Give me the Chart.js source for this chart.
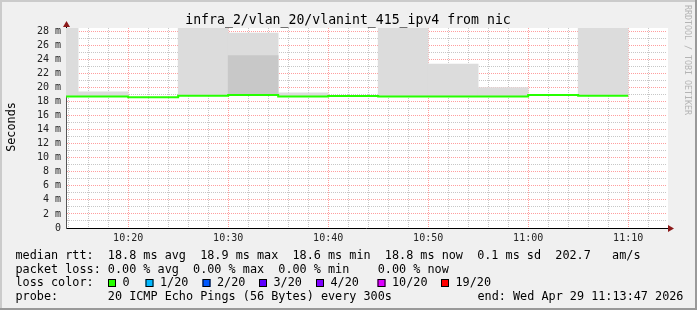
<!DOCTYPE html>
<html>
<head>
<meta charset="utf-8">
<title>infra_2/vlan_20/vlanint_415_ipv4 from nic</title>
<script src="https://cdn.jsdelivr.net/npm/chart.js@4.4.1/dist/chart.umd.min.js"></script>
<style>
  html, body { margin: 0; padding: 0; background: #f0f0f0; }
  canvas { display: block; }
</style>
</head>
<body>
<canvas id="smoke" width="697" height="310"></canvas>
<script>
// 5 minute rrd slots, labelled by the end of the slot
const slotEnds = ['10:15', '10:20', '10:25', '10:30', '10:35', '10:40',
                  '10:45', '10:50', '10:55', '11:00', '11:05', '11:10'];
// median round trip time, ms
const medianRtt = [18.7, 18.7, 18.6, 18.8, 18.9, 18.7, 18.75, 18.7, 18.7, 18.7, 18.9, 18.8];
// upper edge of the light smoke, ms (null = no smoke above the median)
const smokeHigh = [30, 19.35, null, 30, 27.7, 19.2, null, 30, 23.3, 19.95, null, 30];
// upper edge of the darker smoke, ms
const smokeCore = [null, null, null, null, 24.5, null, null, null, null, null, null, null];

const windowStart = '10:13:47';
const windowEnd = '11:13:47';
const yMax = 28.43;

const rttStats = ['18.8', '18.9', '18.6', '18.8']; // avg max min now
const rttSd = '0.1';
const rttAmS = '202.7';
const lossStats = ['0.00', '0.00', '0.00', '0.00']; // avg max min now
const lossLabels = ['0', '1/20', '2/20', '3/20', '4/20', '10/20', '19/20'];
const lossColors = ['#26ff00', '#00b8ff', '#0059ff', '#5e00ff', '#7e00ff', '#dd00ff', '#ff0000'];
const probeText = '20 ICMP Echo Pings (56 Bytes) every 300s';
const endText = 'Wed Apr 29 11:13:47 2026';
const chartTitle = 'infra_2/vlan_20/vlanint_415_ipv4 from nic';

const MONO = "'DejaVu Sans Mono', monospace";
const MAJOR = 'rgba(255, 0, 0, 0.38)';
const MINOR = 'rgba(130, 130, 130, 0.45)';
const PLOT_W = 600;     // px for the whole window
const SLOT_MIN = 5;

function toMin(s) {
    const [h, m, sec = 0] = s.split(':').map(Number);
    return h * 60 + m + sec / 60;
}
function hhmm(v) {
    const h = Math.floor(v / 60), m = Math.round(v % 60);
    return h + ':' + String(m).padStart(2, '0');
}

const slotPx = PLOT_W * SLOT_MIN / (toMin(windowEnd) - toMin(windowStart));

function smokeBars(tops) {
    const out = [];
    slotEnds.forEach((t, i) => {
        if (tops[i] == null) return;
        out.push({ x: toMin(t) - SLOT_MIN / 2, y: [medianRtt[i], tops[i]] });
    });
    return out;
}

// step line: each value holds from slot start to slot end
const medianPts = slotEnds.map((t, i) => ({ x: toMin(t) - SLOT_MIN, y: medianRtt[i] }));
medianPts.push({ x: toMin(slotEnds[slotEnds.length - 1]), y: medianRtt[medianRtt.length - 1] });

const rrdFrame = {
    id: 'rrdFrame',
    beforeDraw(chart) {
        const { ctx, chartArea: a, width, height } = chart;
        ctx.save();
        ctx.fillStyle = '#f0f0f0';
        ctx.fillRect(0, 0, width, height);
        ctx.fillStyle = '#cbcbcb';
        ctx.fillRect(0, 0, width, 2);
        ctx.fillRect(0, 0, 2, height);
        ctx.fillStyle = '#999999';
        ctx.fillRect(0, height - 2, width, 2);
        ctx.fillRect(width - 2, 0, 2, height);
        ctx.fillStyle = '#ffffff';
        ctx.fillRect(a.left, a.top, a.right - a.left + 2, a.bottom - a.top);
        ctx.restore();
    },
    afterDraw(chart) {
        const { ctx, chartArea: a } = chart;
        ctx.save();

        // axis arrows
        ctx.strokeStyle = '#000';
        ctx.lineWidth = 1;
        ctx.beginPath();
        ctx.moveTo(a.left + 0.5, a.top);
        ctx.lineTo(a.left + 0.5, a.top - 4);
        ctx.moveTo(a.right, a.bottom + 0.5);
        ctx.lineTo(a.right + 3, a.bottom + 0.5);
        ctx.stroke();
        ctx.fillStyle = '#8b1a1a';
        ctx.beginPath();
        ctx.moveTo(a.left - 3, a.top - 1);
        ctx.lineTo(a.left + 4, a.top - 1);
        ctx.lineTo(a.left + 0.5, a.top - 7);
        ctx.closePath();
        ctx.fill();
        ctx.beginPath();
        ctx.moveTo(a.right + 2, a.bottom - 3);
        ctx.lineTo(a.right + 2, a.bottom + 4);
        ctx.lineTo(a.right + 8, a.bottom + 0.5);
        ctx.closePath();
        ctx.fill();

        // title
        ctx.fillStyle = '#000';
        ctx.textAlign = 'center';
        ctx.textBaseline = 'alphabetic';
        ctx.font = '13.2px ' + MONO;
        ctx.fillText(chartTitle, 348, 24);

        // vertical label
        ctx.save();
        ctx.translate(14.5, 127);
        ctx.rotate(-Math.PI / 2);
        ctx.font = '11.8px ' + MONO;
        ctx.fillText('Seconds', 0, 0);
        ctx.restore();

        // watermark
        ctx.save();
        ctx.translate(685, 60);
        ctx.rotate(Math.PI / 2);
        ctx.fillStyle = '#b4b4b4';
        ctx.font = '8.3px ' + MONO;
        ctx.fillText('RRDTOOL / TOBI OETIKER', 0, 0);
        ctx.restore();

        // legend
        ctx.textAlign = 'left';
        ctx.font = '11.8px ' + MONO;
        const x0 = 15.5;
        ctx.fillText('median rtt:  ' + rttStats[0] + ' ms avg  ' + rttStats[1] + ' ms max  ' +
            rttStats[2] + ' ms min  ' + rttStats[3] + ' ms now  ' + rttSd + ' ms sd  ' +
            rttAmS + '   am/s', x0, 259);
        ctx.fillText('packet loss: ' + lossStats[0] + ' % avg  ' + lossStats[1] + ' % max  ' +
            lossStats[2] + ' % min    ' + lossStats[3] + ' % now', x0, 272.7);
        ctx.fillText('loss color:', x0, 286.4);
        const boxX = [108, 145.5, 202.5, 259, 316, 377.5, 441];
        lossLabels.forEach((lab, i) => {
            ctx.fillStyle = lossColors[i];
            ctx.fillRect(boxX[i], 279, 8, 8);
            ctx.strokeStyle = '#000';
            ctx.strokeRect(boxX[i] + 0.5, 279.5, 7, 7);
            ctx.fillStyle = '#000';
            ctx.fillText(lab, boxX[i] + 14.5, 286.4);
        });
        ctx.fillText('probe:       ' + probeText, x0, 300);
        ctx.fillText('end: ' + endText, 477.5, 300);

        ctx.restore();
    }
};

const barStyle = {
    borderWidth: 0,
    barThickness: slotPx,
    grouped: false,
    clip: 0
};

new Chart(document.getElementById('smoke'), {
    type: 'bar',
    data: {
        datasets: [
            {
                type: 'line',
                label: 'median rtt',
                data: medianPts,
                stepped: true,
                borderColor: '#26ff00',
                borderWidth: 2,
                pointRadius: 0,
                order: 0,
                clip: 0
            },
            Object.assign({
                label: 'smoke core',
                data: smokeBars(smokeCore),
                backgroundColor: '#c8c8c8',
                order: 1
            }, barStyle),
            Object.assign({
                label: 'smoke',
                data: smokeBars(smokeHigh),
                backgroundColor: '#dcdcdc',
                order: 2
            }, barStyle)
        ]
    },
    options: {
        responsive: false,
        animation: false,
        devicePixelRatio: 1,
        layout: { padding: { top: 28, right: 31, left: 0, bottom: 0 } },
        plugins: {
            legend: { display: false },
            tooltip: { enabled: false }
        },
        scales: {
            x: {
                type: 'linear',
                min: toMin(windowStart),
                max: toMin(windowEnd),
                offset: false,
                z: 1,
                afterFit: s => { s.height = 82; },
                afterBuildTicks: s => {
                    const t = [];
                    for (let v = Math.ceil(s.min / 2) * 2; v <= s.max; v += 2) t.push({ value: v });
                    s.ticks = t;
                },
                grid: {
                    offset: false,
                    drawTicks: false,
                    lineWidth: 1,
                    color: c => (c.tick && c.tick.value % 10 === 0) ? MAJOR : MINOR
                },
                border: { color: '#000', width: 1, dash: [1, 1] },
                ticks: {
                    autoSkip: false,
                    maxRotation: 0,
                    padding: 4,
                    color: '#222',
                    font: { family: MONO, size: 10 },
                    callback: v => v % 10 === 0 ? hhmm(v) : ''
                }
            },
            y: {
                min: 0,
                max: yMax,
                z: 1,
                afterFit: s => { s.width = 66; },
                grid: {
                    drawTicks: false,
                    lineWidth: 1,
                    color: c => (c.tick && c.tick.value % 2 === 0) ? MAJOR : MINOR
                },
                border: { color: '#555', width: 1, dash: [1, 1] },
                ticks: {
                    stepSize: 1,
                    includeBounds: false,
                    autoSkip: false,
                    padding: 5,
                    color: '#222',
                    font: { family: MONO, size: 10 },
                    callback: v => v % 2 ? '' : (v === 0 ? '0' : v + ' m')
                }
            }
        }
    },
    plugins: [rrdFrame]
});
</script>
</body>
</html>
